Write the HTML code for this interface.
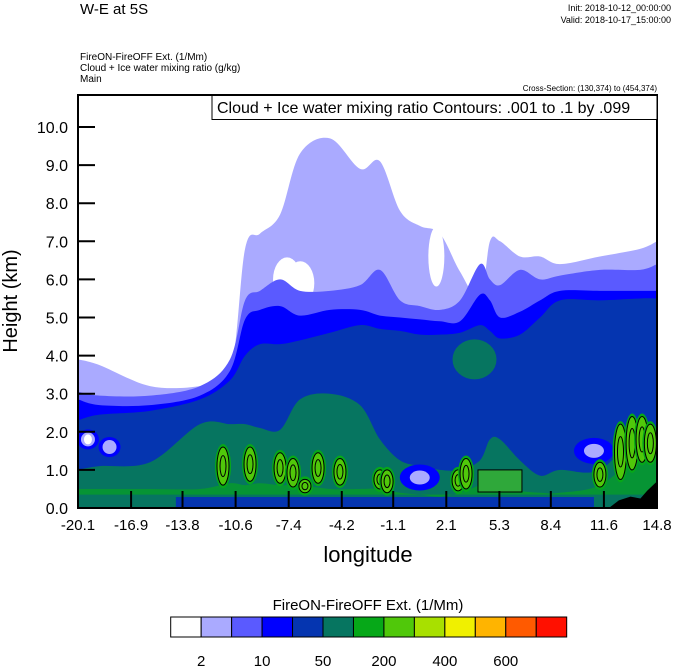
<!DOCTYPE html>
<html><head><meta charset="utf-8">
<style>
body{margin:0;background:#fff;}
svg{display:block;font-family:"Liberation Sans",Arial,sans-serif;}
</style></head>
<body>
<svg id="chart" width="674" height="667" viewBox="0 0 674 667">
<text x="80" y="14" font-size="15">W-E at 5S</text>
<text x="671" y="11" font-size="9" text-anchor="end">Init: 2018-10-12_00:00:00</text>
<text x="671" y="23" font-size="9" text-anchor="end">Valid: 2018-10-17_15:00:00</text>
<text x="80" y="60" font-size="10">FireON-FireOFF Ext.   (1/Mm)</text>
<text x="80" y="71" font-size="10">Cloud + Ice water mixing ratio   (g/kg)</text>
<text x="80" y="82" font-size="10">Main</text>
<text x="657" y="91" font-size="8" text-anchor="end">Cross-Section: (130,374) to (454,374)</text>
<g id="plot"></g>
<g id="axes"></g>
<rect x="212" y="95.5" width="445" height="24" fill="#fff" stroke="#000" stroke-width="1"/>
<text x="217" y="113" font-size="16">Cloud + Ice water mixing ratio Contours: .001 to .1 by .099</text>
<text x="368" y="562" font-size="22" text-anchor="middle">longitude</text>
<text transform="translate(17,301) rotate(-90)" font-size="20" text-anchor="middle">Height (km)</text>
<text x="368" y="610" font-size="15" text-anchor="middle">FireON-FireOFF Ext.  (1/Mm)</text>
<g id="cbar"></g>
</svg>
<script>
const lons=[-20.1,-18.8,-15.76,-12.75,-10.94,-10.03,-9.13,-7.92,-6.72,-4.91,-3.10,-1.90,-0.69,0.52,1.72,2.93,4.13,4.73,5.34,6.54,7.75,8.95,11.36,13.78,14.8];
const lavenderTop=[3.9,3.75,3.2,3.2,3.5,6.8,7.2,7.7,9.3,9.7,8.9,9.1,7.8,7.4,7.2,6.2,5.5,7.0,7.0,6.6,6.6,6.4,6.6,6.8,7.0];
const mediumTop=[3.05,2.95,2.95,3.2,3.9,5.45,5.7,6.0,5.7,5.7,5.85,6.25,5.45,5.3,5.2,5.45,6.4,6.0,5.85,6.25,6.0,6.1,6.25,6.25,6.4];
const blueTop=[2.85,2.7,2.7,2.95,3.6,4.95,5.2,5.3,5.05,5.2,5.2,5.05,5.0,4.95,4.9,4.9,5.6,5.45,5.0,5.15,5.45,5.7,5.7,5.7,5.7];
const darkTop=[2.3,2.45,2.55,2.85,3.35,4.0,4.3,4.3,4.4,4.6,4.8,4.7,4.65,4.55,4.55,4.6,4.8,4.65,4.45,4.55,5.0,5.45,5.45,5.5,5.5];
const tealTop=[1.0,1.1,1.2,2.2,2.2,2.2,2.1,2.05,2.85,3.0,2.7,1.8,1.25,1.1,1.0,1.0,1.25,1.8,1.8,1.25,0.85,1.0,1.0,2.05,2.05];
const greenTop=[0.5,0.5,0.5,0.5,0.65,0.6,0.65,0.6,0.6,0.5,0.5,0.5,0.4,0.35,0.3,0.4,0.6,0.65,0.6,0.45,0.4,0.4,0.6,1.4,1.3];
const holeLon=[-7.5,-6.7,1.5,-18.5,-11.5,-19.5];
const holeH=[6.0,5.9,6.6,9.4,7.5,5.2];
const cellLon=[-11.36,-9.73,-7.92,-7.14,-6.42,-5.63,-4.31,-1.90,-1.47,2.81,3.29,11.36,12.6,13.3,13.9,14.4];
const cellBase=[0.6,0.7,0.65,0.55,0.4,0.65,0.6,0.5,0.4,0.45,0.5,0.55,0.75,1.0,1.2,1.2];
const cellTop=[1.6,1.6,1.45,1.3,0.75,1.45,1.3,1.0,1.0,1.0,1.3,1.2,2.2,2.4,2.4,2.2];
const boxLon=[4.01,6.66];
const boxH=[0.42,1.0];
const bluePatchLon=[-19.5,-18.2,0.5,11.0];
const bluePatchH=[1.8,1.6,0.8,1.5];
const terrainLon=[11.9,12.5,13.2,13.8,14.2,14.8];
const terrainH=[0.0,0.2,0.3,0.25,0.45,0.7];
const xTicks=[-20.1,-16.9,-13.8,-10.6,-7.4,-4.2,-1.1,2.1,5.3,8.4,11.6,14.8];
const yTicks=[0,1,2,3,4,5,6,7,8,9,10];
const cbColors=["#ffffff","#aaaaff","#5a5aff","#0000ff","#0535b0","#067560","#06a818","#50c80a","#a8e000","#f0f000","#ffb400","#ff5a00","#ff1000"];
const cbLabels=["2","10","50","200","400","600"];

const X0=78,X1=657,Y0=508,Y1=95;
const xs=v=>X0+(v+20.1)/34.9*(X1-X0);
const ys=h=>Y0-h*38.1;
const NS="http://www.w3.org/2000/svg";
const plot=document.getElementById('plot');
const axes=document.getElementById('axes');
function mk(tag,attrs,parent){const e=document.createElementNS(NS,tag);for(const k in attrs)e.setAttribute(k,attrs[k]);parent.appendChild(e);return e;}
function smooth(pts){let d="M"+pts[0][0]+","+pts[0][1];for(let i=0;i<pts.length-1;i++){const p0=pts[Math.max(0,i-1)],p1=pts[i],p2=pts[i+1],p3=pts[Math.min(pts.length-1,i+2)];const c1=[p1[0]+(p2[0]-p0[0])/6,p1[1]+(p2[1]-p0[1])/6],c2=[p2[0]-(p3[0]-p1[0])/6,p2[1]-(p3[1]-p1[1])/6];d+=` C${c1[0]},${c1[1]} ${c2[0]},${c2[1]} ${p2[0]},${p2[1]}`;}return d;}
function layer(tops,color,name){const pts=lons.map((l,i)=>[xs(l),Math.max(Y1,ys(tops[i]))]);const d=smooth(pts)+` L${X1},${Y0} L${X0},${Y0} Z`;const p=mk('path',{d:d,fill:color},plot);

}
const clip=mk('clipPath',{id:'pc'},document.getElementById('chart'));mk('rect',{x:X0,y:Y1,width:X1-X0,height:Y0-Y1},clip);
plot.setAttribute('clip-path','url(#pc)');
layer(lavenderTop,"#aaaaff","layer-2-10");
holeLon.forEach((l,i)=>{const e=mk('ellipse',{cx:xs(l),cy:ys(holeH[i]),rx:i>=3?6:(i==2?8:14),ry:i>=3?8:(i==2?30:22),fill:"#fff"},plot);

});
layer(mediumTop,"#5a5aff","layer-10-20");
layer(blueTop,"#0000ff","layer-20-50");
layer(darkTop,"#0535b0","layer-50-100");
layer(tealTop,"#067560","layer-100-200");
{const e=mk('ellipse',{cx:xs(3.8),cy:ys(3.9),rx:22,ry:20,fill:"#067560"},plot);

}
{const r=mk('rect',{x:xs(-14.2),y:497,width:xs(11.0)-xs(-14.2),height:11,fill:"#0535b0"},plot);

}
bluePatchLon.forEach((l,i)=>{const g=mk('g',{},plot);


mk('ellipse',{cx:xs(l),cy:ys(bluePatchH[i]),rx:i<2?11:20,ry:i<2?10:13,fill:"#0000ff"},g);mk('ellipse',{cx:xs(l),cy:ys(bluePatchH[i]),rx:i<2?7:10,ry:i<2?7:7,fill:"#aaaaff"},g);if(i==0)mk('ellipse',{cx:xs(l),cy:ys(bluePatchH[i]),rx:4,ry:5,fill:"#fff"},g);});
{const pts=lons.map((l,i)=>[xs(l),ys(greenTop[i])]);const bot=[...lons].reverse().map(l=>[xs(l),ys(0.35)]);const p=mk('path',{d:smooth(pts)+" "+bot.map(q=>"L"+q[0]+","+q[1]).join(" ")+" Z",fill:"#06a818",opacity:"0.6"},plot);

}
cellLon.forEach((l,i)=>{const cx=xs(l),cy=(ys(cellBase[i])+ys(cellTop[i]))/2,ry=(ys(cellBase[i])-ys(cellTop[i]))/2;const g=mk('g',{},plot);


mk('ellipse',{cx:cx,cy:cy,rx:8,ry:ry+3,fill:"#06a818"},g);mk('ellipse',{cx:cx,cy:cy,rx:6,ry:ry,fill:"#50c80a",stroke:"#000","stroke-width":1},g);mk('ellipse',{cx:cx,cy:cy,rx:3,ry:ry*0.55,fill:"none",stroke:"#000","stroke-width":1},g);});
{const r=mk('rect',{x:xs(boxLon[0]),y:ys(boxH[1]),width:xs(boxLon[1])-xs(boxLon[0]),height:ys(boxH[0])-ys(boxH[1]),fill:"#2fa83a",stroke:"#000","stroke-width":1},plot);

}
{const pts=terrainLon.map((l,i)=>[xs(l),ys(terrainH[i])]);const p=mk('path',{d:"M"+pts.map(q=>q[0]+","+q[1]).join(" L")+` L${X1},${Y0} L${xs(terrainLon[0])},${Y0} Z`,fill:"#000"},plot);

}
mk('rect',{x:X0,y:Y1,width:X1-X0,height:Y0-Y1,fill:"none",stroke:"#000","stroke-width":2},axes);
xTicks.forEach(v=>{const x=xs(v);const t=mk('line',{x1:x,x2:x,y1:Y0,y2:Y0-17,stroke:"#000","stroke-width":2},axes);


const tx=mk('text',{x:x,y:530,"font-size":15,"text-anchor":"middle"},axes);tx.textContent=v.toFixed(1);

});
yTicks.forEach(v=>{const y=ys(v);const t=mk('line',{x1:X0,x2:X0+17,y1:y,y2:y,stroke:"#000","stroke-width":2},axes);


const tx=mk('text',{x:68,y:y+6,"font-size":16,"text-anchor":"end"},axes);tx.textContent=v.toFixed(1);

});
const cb=document.getElementById('cbar');const bw=396/cbColors.length;
cbColors.forEach((c,i)=>{const r=mk('rect',{x:170.7+i*bw,y:617,width:bw,height:20,fill:c,stroke:"#000","stroke-width":1},cb);

});
cbLabels.forEach((s,i)=>{const t=mk('text',{x:170.7+(1+2*i)*bw,y:666,"font-size":15,"text-anchor":"middle"},cb);t.textContent=s;

});
</script>
</body></html>
